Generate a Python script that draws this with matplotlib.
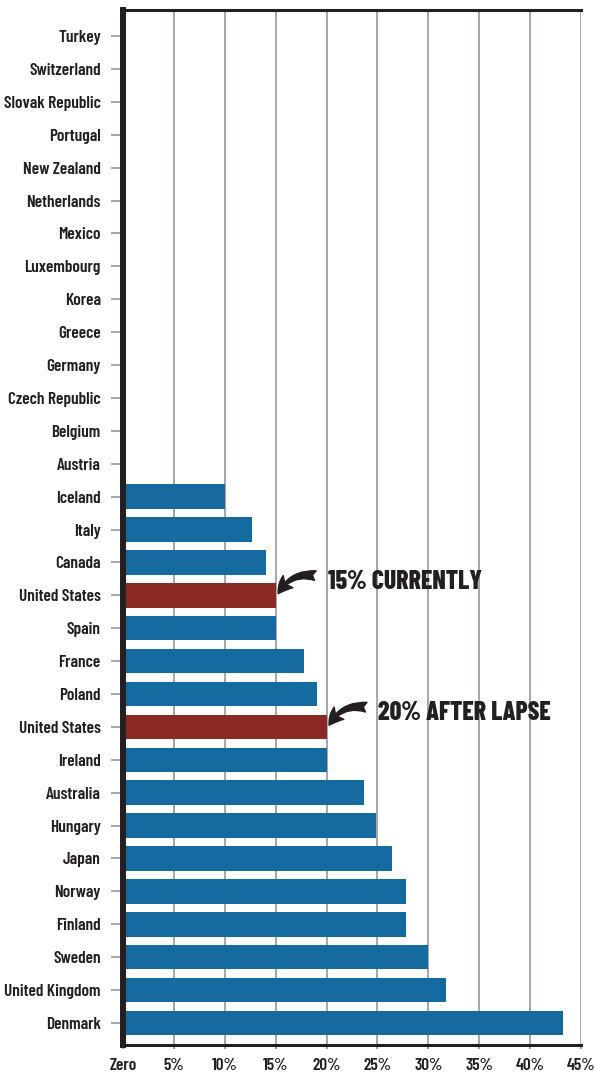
import numpy as np
import matplotlib.pyplot as plt

# Данные
countries = ['Turkey', 'Switzerland', 'Slovak Republic', 'Portugal', 'New Zealand',
             'Netherlands', 'Mexico', 'Luxembourg', 'Korea', 'Greece', 'Germany',
             'Czech Republic', 'Belgium', 'Austria', 'Iceland', 'Italy', 'Canada',
             'United States', 'Spain', 'France', 'Poland', 'United States', 'Ireland',
             'Australia', 'Hungary', 'Japan', 'Norway', 'Finland', 'Sweden',
             'United Kingdom', 'Denmark']
rates = [0, 0, 0, 0, 0, 0, 0, 0, 0, 0, 0, 0, 0, 0,
         10.0, 12.7, 14.1, 15.0, 15.0, 17.8, 19.1, 20.0, 20.0,
         23.7, 24.9, 26.4, 27.8, 27.8, 30.0, 31.7, 43.2]
x_ticks = [0, 5, 10, 15, 20, 25, 30, 35, 40, 45]
x_labels = ['Zero', '5%', '10%', '15%', '20%', '25%', '30%', '35%', '40%', '45%']
notes = {17: '15% CURRENTLY', 21: '20% AFTER LAPSE'}

# Узкий шрифт, похожий на оригинал
plt.rcParams['font.family'] = ['Barlow Condensed', 'DejaVu Sans']

dark = '#231f20'
blue = '#156aa0'
red = '#8b2a25'

fig = plt.figure(figsize=(5.95, 10.78), dpi=100)
ax = fig.add_axes([0.2067, 0.0306, 0.7697, 0.960])

y = np.arange(len(countries))
colors = [red if c == 'United States' else blue for c in countries]
ax.barh(y, rates, height=0.745, color=colors, linewidth=0, zorder=2)

ax.set_ylim(len(countries) - 0.33, -0.79)
ax.set_xlim(0, 45)
ax.set_yticks(y)
ax.set_yticklabels(countries, fontsize=12.5, fontweight=600, color=dark)
ax.set_xticks(x_ticks)
ax.set_xticklabels(x_labels, fontsize=12.5, fontweight=600, color=dark)

ax.tick_params(axis='y', length=9, width=1.2, color='#9a9a9a', pad=7)
ax.tick_params(axis='x', length=3, width=1.2, color='#8c9090', pad=6)
ax.grid(axis='x', color='#8c9090', linewidth=1.1, zorder=1)
ax.set_axisbelow(True)

ax.spines['right'].set_visible(False)
ax.spines['left'].set_linewidth(4.3)
ax.spines['top'].set_linewidth(2.2)
ax.spines['bottom'].set_linewidth(2.2)
for s in ['left', 'top', 'bottom']:
    ax.spines[s].set_color(dark)
    ax.spines[s].set_zorder(5)

# Подписи со стрелками
for row, text in notes.items():
    v = rates[row]
    ax.annotate('', xy=(v + 0.25, row - 0.05), xytext=(v + 3.9, row - 0.6),
                arrowprops=dict(arrowstyle='fancy,head_length=0.8,head_width=0.8,tail_width=0.5',
                                connectionstyle='arc3,rad=0.35', color=dark,
                                mutation_scale=14, shrinkA=0, shrinkB=0), zorder=6)
    ax.text(v + 5.1, row - 0.42, text, fontsize=18.5, fontweight=800,
            color=dark, va='center', ha='left', zorder=6)

plt.savefig('out.png', dpi=100)
